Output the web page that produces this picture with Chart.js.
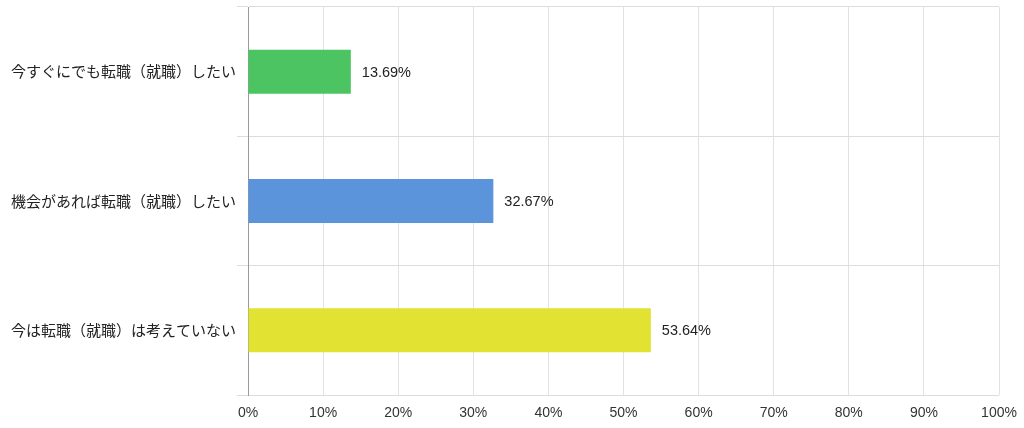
<!DOCTYPE html>
<html>
<head>
<meta charset="utf-8">
<script src="https://cdn.jsdelivr.net/npm/chart.js@4/dist/chart.umd.min.js"></script>
<style>
  html, body { margin: 0; padding: 0; background: #fff; }
  #wrap { width: 1024px; height: 428px; }
</style>
</head>
<body>
<div id="wrap"><canvas id="jobChart"></canvas></div>
<script>
const answerLabels = ["今すぐにでも転職（就職）したい", "機会があれば転職（就職）したい", "今は転職（就職）は考えていない"];
const answerShares = [13.69, 32.67, 53.64];
const barColors = ["#4cc462", "#5b94da", "#e2e232"];
const axisTicks = [0, 10, 20, 30, 40, 50, 60, 70, 80, 90, 100];

// draws the "13.69%" style numbers at the end of each bar
const valueLabels = {
    id: 'valueLabels',
    afterDatasetsDraw(chart) {
        const ctx = chart.ctx;
        const meta = chart.getDatasetMeta(0);
        ctx.save();
        ctx.font = '14.5px "Liberation Sans", Arial, sans-serif';
        ctx.fillStyle = '#222';
        ctx.textBaseline = 'middle';
        ctx.textAlign = 'left';
        meta.data.forEach(function (bar, i) {
            ctx.fillText(answerShares[i].toFixed(2) + '%', bar.x + 11, bar.y + 1);
        });
        ctx.restore();
    }
};

var ctx = document.getElementById('jobChart');

var jobChart = new Chart(ctx, {
    type: 'bar',
    data: {
        labels: answerLabels,
        datasets: [{
            data: answerShares,
            backgroundColor: barColors,
            borderWidth: 0,
            categoryPercentage: 0.34,
            barPercentage: 1
        }]
    },
    options: {
        indexAxis: 'y',
        responsive: true,
        maintainAspectRatio: false,
        animation: false,
        layout: { padding: { top: 7, right: 25, bottom: 0, left: 0 } },
        plugins: {
            legend: { display: false },
            tooltip: { enabled: false }
        },
        scales: {
            x: {
                min: 0,
                max: 100,
                afterBuildTicks: function (axis) {
                    axis.ticks = axisTicks.map(function (v) { return { value: v }; });
                },
                afterFit: function (axis) {
                    axis.height = 33;
                    axis.paddingLeft = 0;
                    axis.paddingRight = 0;
                },
                grid: { color: '#e2e2e2', drawTicks: false },
                border: { display: false },
                ticks: {
                    padding: 10,
                    color: '#333',
                    font: { family: '"Liberation Sans", Arial, sans-serif', size: 14 },
                    callback: function (value) { return value + '%'; }
                }
            },
            y: {
                afterFit: function (axis) {
                    axis.width = 248;
                    axis.paddingTop = 0;
                    axis.paddingBottom = 0;
                },
                grid: { color: '#dcdcdc', offset: true, tickLength: 11 },
                border: { color: '#9a9a9a' },
                ticks: {
                    padding: 1,
                    color: '#222',
                    font: { family: '"Noto Sans CJK JP", sans-serif', size: 15 }
                }
            }
        }
    },
    plugins: [valueLabels]
});
</script>
</body>
</html>
